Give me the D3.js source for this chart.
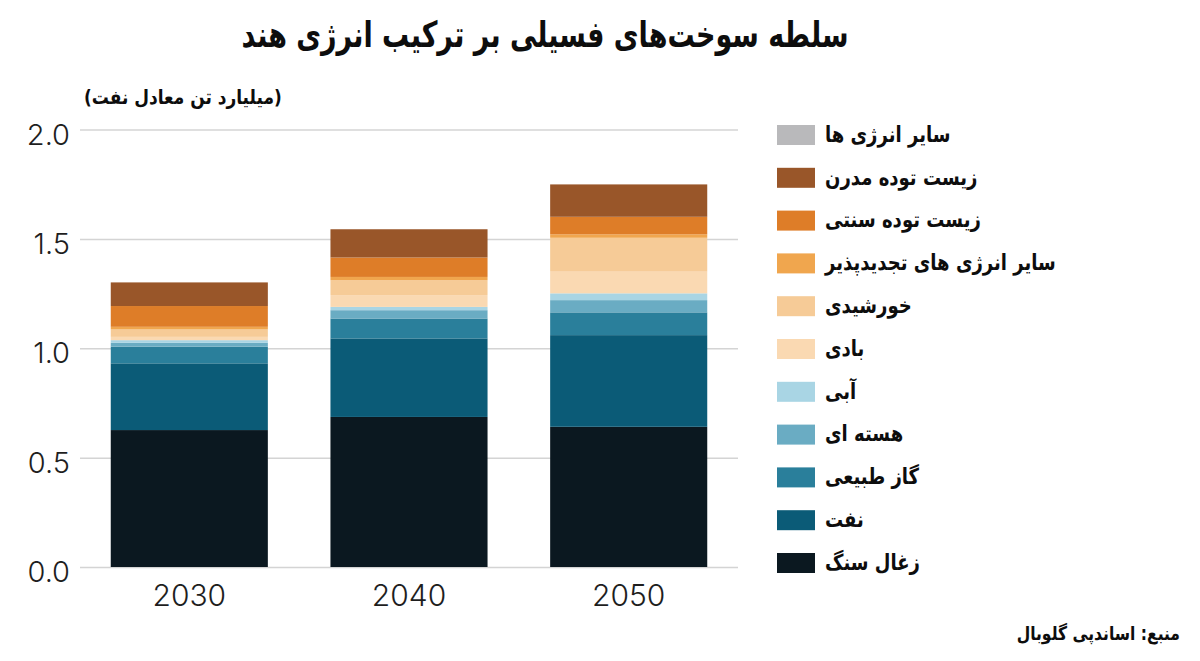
<!DOCTYPE html>
<html>
<head>
<meta charset="utf-8">
<script src="https://cdn.jsdelivr.net/npm/d3@7"></script>
<style>
  html, body { margin: 0; padding: 0; background: #ffffff; }
  svg { display: block; }
</style>
</head>
<body>
<svg id="chart" width="1200" height="661"></svg>
<script>
// ---- data ----
const years = ["2030", "2040", "2050"];
const coal = [0.626, 0.686, 0.641];
const oil = [0.305, 0.359, 0.419];
const gas = [0.076, 0.091, 0.104];
const nuclear = [0.018, 0.038, 0.056];
const hydro = [0.012, 0.015, 0.031];
const wind = [0.015, 0.054, 0.099];
const solar = [0.034, 0.068, 0.155];
const otherRenewables = [0.012, 0.015, 0.016];
const traditionalBiomass = [0.095, 0.089, 0.080];
const modernBiomass = [0.108, 0.129, 0.148];
const otherEnergy = [0, 0, 0];

const seriesKeys = ["coal", "oil", "gas", "nuclear", "hydro", "wind", "solar", "otherRenewables", "traditionalBiomass", "modernBiomass", "otherEnergy"];
const seriesLabels = ["زغال سنگ", "نفت", "گاز طبیعی", "هسته ای", "آبی", "بادی", "خورشیدی", "سایر انرژی های تجدیدپذیر", "زیست توده سنتی", "زیست توده مدرن", "سایر انرژی ها"];
const seriesColors = ["#0b1820", "#0b5b77", "#2a7f9b", "#6aacc3", "#a9d5e4", "#fad9b2", "#f6cb97", "#f0a64e", "#de7d28", "#995629", "#b9b9bb"];
const yTicks = [0, 0.5, 1.0, 1.5, 2.0];

const titleText = "سلطه سوخت‌های فسیلی بر ترکیب انرژی هند";
const unitText = "(میلیارد تن معادل نفت)";
const sourceText = "منبع: اساندپی گلوبال";

// ---- build table ----
const seriesValues = { coal, oil, gas, nuclear, hydro, wind, solar, otherRenewables, traditionalBiomass, modernBiomass, otherEnergy };
const table = years.map((yr, i) => {
  const row = { year: yr };
  seriesKeys.forEach(k => row[k] = seriesValues[k][i]);
  return row;
});
const stacked = d3.stack().keys(seriesKeys)(table);

const svg = d3.select("#chart");
const persianFont = "'DejaVu Sans', sans-serif";
const numFont = "Inter, Lato, 'Open Sans', sans-serif";

const x = d3.scaleBand().domain(years).range([80, 738]).paddingInner(0.285).paddingOuter(0.14);
const y = d3.scaleLinear().domain([0, 2]).range([567, 129.5]);
const color = d3.scaleOrdinal().domain(seriesKeys).range(seriesColors);

// grid + y axis
const yAxis = svg.append("g")
  .attr("transform", "translate(80,0)")
  .call(d3.axisLeft(y).tickValues(yTicks).tickFormat(d3.format(".1f")).tickSize(-658).tickPadding(10));
yAxis.select(".domain").remove();
yAxis.selectAll(".tick line").attr("stroke", "#d4d4d4").attr("stroke-width", 1.5);
yAxis.selectAll(".tick text")
  .attr("font-family", numFont).attr("font-weight", 300)
  .attr("font-size", 29).attr("fill", "#1e1e1e").attr("dy", "0.5em");

// bars
svg.append("g").selectAll("g")
  .data(stacked).join("g")
  .attr("fill", d => color(d.key))
  .selectAll("rect")
  .data(d => d).join("rect")
  .attr("x", d => x(d.data.year))
  .attr("width", x.bandwidth())
  .attr("y", d => y(d[1]))
  .attr("height", d => Math.max(0, y(d[0]) - y(d[1])));

// x axis labels
const xAxis = svg.append("g")
  .attr("transform", "translate(0,567)")
  .call(d3.axisBottom(x).tickSize(0).tickPadding(18));
xAxis.select(".domain").remove();
xAxis.selectAll(".tick text")
  .attr("font-family", numFont).attr("font-weight", 300)
  .attr("font-size", 30).attr("fill", "#1e1e1e");

// helper for condensed Persian text
function condensedText(parent, tx, ty, sx, size, anchor, txt) {
  return parent.append("text")
    .attr("transform", `translate(${tx},${ty}) scale(${sx},1)`)
    .attr("dy", "0.35em")
    .attr("text-anchor", anchor)
    .attr("font-family", persianFont).attr("font-weight", "bold")
    .attr("font-size", size).attr("fill", "#0d0d0d")
    .text(txt);
}

// legend (top to bottom reversed order)
const legendOrder = seriesKeys.map((k, i) => ({ key: k, label: seriesLabels[i] })).reverse();
const legend = svg.append("g").selectAll("g")
  .data(legendOrder).join("g")
  .attr("transform", (d, i) => `translate(777,${125 + i * 42.8})`);
legend.append("rect")
  .attr("width", 38).attr("height", 20)
  .attr("fill", d => color(d.key));
legend.each(function(d) {
  condensedText(d3.select(this), 48, 9, 0.82, 22, "start", d.label);
});

// title
condensedText(svg, 545, 34, 0.75, 36, "middle", titleText);

// unit label
condensedText(svg, 84, 97, 0.85, 20, "start", unitText);

// source
condensedText(svg, 1180, 633, 0.82, 19, "end", sourceText);
</script>
</body>
</html>
